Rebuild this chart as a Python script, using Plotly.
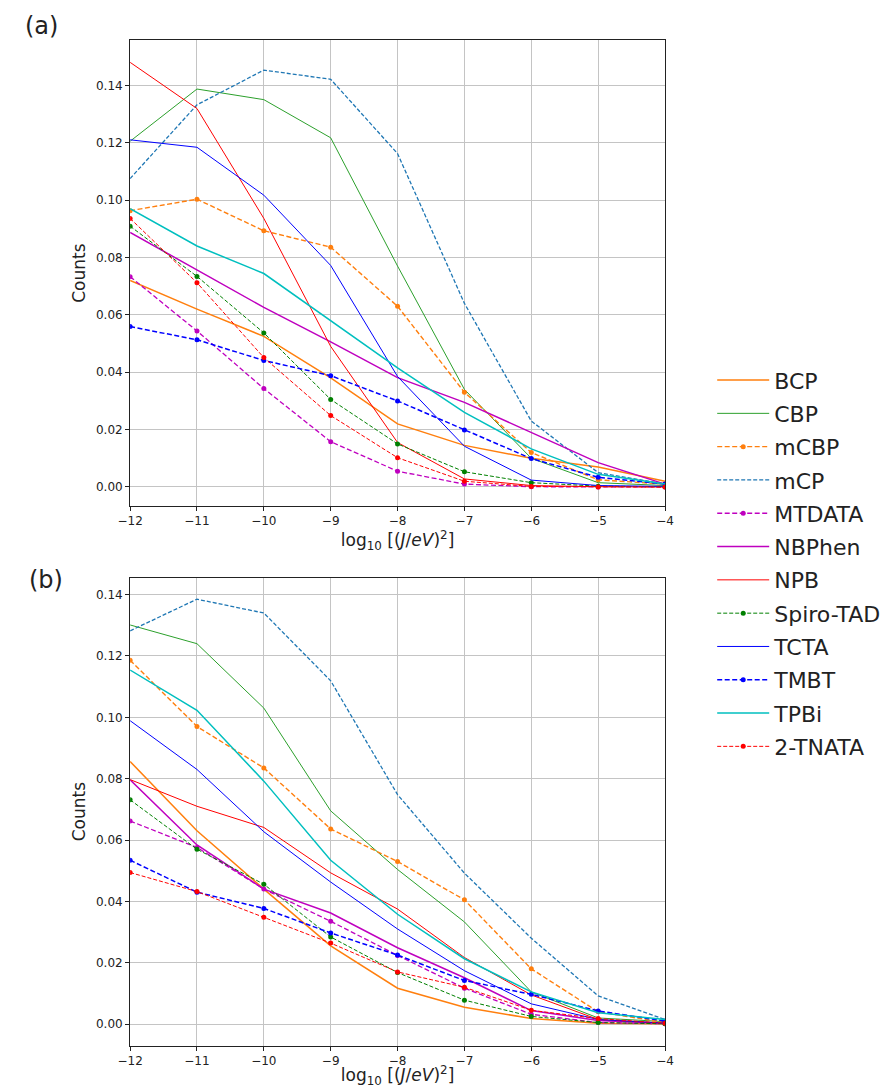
import plotly.graph_objects as go

x_vals = [-12, -11, -10, -9, -8, -7, -6, -5, -4]
names = ["BCP", "CBP", "mCBP", "mCP", "MTDATA", "NBPhen", "NPB",
         "Spiro-TAD", "TCTA", "TMBT", "TPBi", "2-TNATA"]

# panel (a)
a_BCP = [0.072, 0.062, 0.0525, 0.038, 0.022, 0.0145, 0.010, 0.007, 0.002]
a_CBP = [0.1205, 0.1387, 0.135, 0.1217, 0.077, 0.034, 0.010, 0.0015, 0.0005]
a_mCBP = [0.0963, 0.1003, 0.0893, 0.0836, 0.063, 0.033, 0.012, 0.0025, 0.001]
a_mCP = [0.1075, 0.1332, 0.1453, 0.1421, 0.1162, 0.064, 0.023, 0.005, 0.001]
a_MTDATA = [0.0733, 0.0544, 0.0343, 0.0158, 0.0055, 0.001, 0.0001, 0.0, 0.0]
a_NBPhen = [0.0887, 0.0758, 0.0626, 0.0506, 0.0381, 0.0295, 0.019, 0.0085, 0.001]
a_NPB = [0.148, 0.1319, 0.0936, 0.049, 0.0155, 0.0028, 0.0005, 0.0001, 0.0]
a_SpiroTAD = [0.0909, 0.0734, 0.0537, 0.0305, 0.015, 0.0053, 0.0015, 0.0003, 0.0001]
a_TCTA = [0.121, 0.1184, 0.1017, 0.0772, 0.0385, 0.0142, 0.0024, 0.0005, 0.0002]
a_TMBT = [0.0559, 0.0513, 0.0441, 0.0388, 0.030, 0.0199, 0.0099, 0.0034, 0.001]
a_TPBi = [0.097, 0.084, 0.0744, 0.0578, 0.0415, 0.026, 0.0133, 0.0044, 0.001]
a_2TNATA = [0.0936, 0.0712, 0.0451, 0.0249, 0.0102, 0.002, 0.0002, 0.0, 0.0]

# panel (b)
b_BCP = [0.0856, 0.063, 0.044, 0.0255, 0.0117, 0.0055, 0.0018, 0.0003, 0.0001]
b_CBP = [0.1301, 0.124, 0.103, 0.0695, 0.0504, 0.0333, 0.0105, 0.002, 0.0008]
b_mCBP = [0.1186, 0.097, 0.0835, 0.0636, 0.053, 0.0405, 0.018, 0.004, 0.0005]
b_mCP = [0.1282, 0.1385, 0.134, 0.1119, 0.0748, 0.0492, 0.028, 0.0092, 0.0015]
b_MTDATA = [0.0662, 0.0576, 0.044, 0.0335, 0.0224, 0.0117, 0.0032, 0.0005, 0.0001]
b_NBPhen = [0.0796, 0.0584, 0.044, 0.0362, 0.0249, 0.0151, 0.0044, 0.0012, 0.0002]
b_NPB = [0.0797, 0.071, 0.0641, 0.0493, 0.0375, 0.0217, 0.0095, 0.0015, 0.0003]
b_SpiroTAD = [0.0731, 0.057, 0.0456, 0.0284, 0.0168, 0.0078, 0.0025, 0.0005, 0.0001]
b_TCTA = [0.0989, 0.083, 0.0627, 0.0463, 0.031, 0.0174, 0.0066, 0.0015, 0.0003]
b_TMBT = [0.0534, 0.043, 0.0377, 0.0297, 0.0225, 0.0142, 0.0097, 0.0043, 0.001]
b_TPBi = [0.1154, 0.1023, 0.0792, 0.0534, 0.0358, 0.0213, 0.0105, 0.0037, 0.0015]
b_2TNATA = [0.0494, 0.0432, 0.0348, 0.0264, 0.017, 0.012, 0.0045, 0.0018, 0.0003]

a_series = [a_BCP, a_CBP, a_mCBP, a_mCP, a_MTDATA, a_NBPhen, a_NPB,
            a_SpiroTAD, a_TCTA, a_TMBT, a_TPBi, a_2TNATA]
b_series = [b_BCP, b_CBP, b_mCBP, b_mCP, b_MTDATA, b_NBPhen, b_NPB,
            b_SpiroTAD, b_TCTA, b_TMBT, b_TPBi, b_2TNATA]

# style: (color, dash, markers, width)
styles = {
    "BCP": ("#ff7f0e", "solid", False, 1.5),
    "CBP": ("#2ca02c", "solid", False, 1.0),
    "mCBP": ("#ff7f0e", "5px,2.5px", True, 1.4),
    "mCP": ("#1f77b4", "4px,2px", False, 1.3),
    "MTDATA": ("#bf00bf", "5px,2.5px", True, 1.3),
    "NBPhen": ("#bf00bf", "solid", False, 1.5),
    "NPB": ("#ff0000", "solid", False, 1.0),
    "Spiro-TAD": ("#008000", "4px,2px", True, 1.0),
    "TCTA": ("#0000ff", "solid", False, 1.0),
    "TMBT": ("#0000ff", "5px,2.5px", True, 1.5),
    "TPBi": ("#00bfbf", "solid", False, 1.5),
    "2-TNATA": ("#ff0000", "4px,2px", True, 1.0),
}

FONT = "DejaVu Sans"
fig = go.Figure()

for panel, series, xa, ya in [("a", a_series, "x", "y"), ("b", b_series, "x2", "y2")]:
    for name, vals in zip(names, series):
        color, dash, mk, w = styles[name]
        fig.add_trace(go.Scatter(
            x=x_vals, y=vals, name=name, legendgroup=name,
            showlegend=(panel == "a"),
            mode="lines+markers" if mk else "lines",
            line=dict(color=color, dash=dash, width=w),
            marker=dict(color=color, size=5) if mk else None,
            xaxis=xa, yaxis=ya,
        ))

grid = "#c4c4c4"
xcommon = dict(range=[-12, -4], dtick=1, tick0=-12, showline=True, mirror=True,
               linecolor="#222222", linewidth=1, ticks="outside", ticklen=4,
               tickcolor="#222222", showgrid=True, gridcolor=grid, gridwidth=1,
               zeroline=False, tickfont=dict(family=FONT, size=12, color="#222"),
               title=dict(text="log<sub>10</sub> [(<i>J</i>/<i>eV</i>)<sup>2</sup>]",
                          font=dict(family=FONT, size=17, color="#222"), standoff=2))
ycommon = dict(dtick=0.02, tick0=0, tickformat=".2f", showline=True, mirror=True,
               linecolor="#222222", linewidth=1, ticks="outside", ticklen=4,
               tickcolor="#222222", showgrid=True, gridcolor=grid, gridwidth=1,
               zeroline=False, tickfont=dict(family=FONT, size=12, color="#222"),
               title=dict(text="Counts", font=dict(family=FONT, size=17, color="#222"),
                          standoff=6))

fig.update_layout(
    width=896, height=1088,
    margin=dict(l=0, r=0, t=0, b=0),
    paper_bgcolor="white", plot_bgcolor="white",
    font=dict(family=FONT, color="#222"),
    xaxis=dict(domain=[0.134, 0.746], anchor="y", **xcommon),
    yaxis=dict(domain=[0.535, 0.963], anchor="x", range=[-0.0066, 0.1557], **ycommon),
    xaxis2=dict(domain=[0.134, 0.746], anchor="y2", **xcommon),
    yaxis2=dict(domain=[0.039, 0.469], anchor="x2", range=[-0.007, 0.1455], **ycommon),
    legend=dict(x=0.80, xanchor="left", y=0.6698, yanchor="top",
                font=dict(family=FONT, size=22, color="#222"),
                traceorder="grouped", tracegroupgap=1.7, itemwidth=52,
                bgcolor="rgba(0,0,0,0)"),
    annotations=[
        dict(text="(a)", x=10 / 896, y=1 - 26 / 1088, xref="paper", yref="paper",
             xanchor="left", yanchor="middle", showarrow=False,
             font=dict(family=FONT, size=24, color="#222")),
        dict(text="(b)", x=14 / 896, y=1 - 580 / 1088, xref="paper", yref="paper",
             xanchor="left", yanchor="middle", showarrow=False,
             font=dict(family=FONT, size=24, color="#222")),
    ],
)

fig.write_html("out.html")
